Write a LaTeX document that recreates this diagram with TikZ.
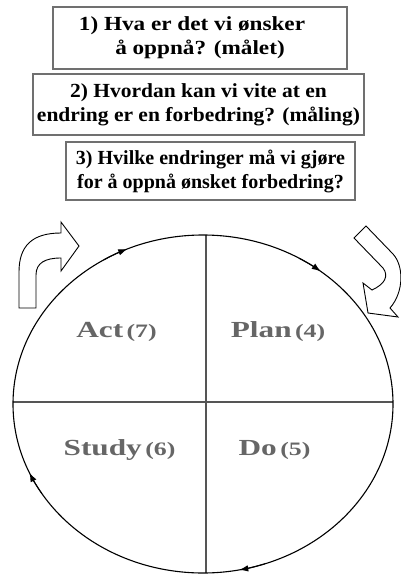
\documentclass[tikz,border=0pt]{standalone}
\usepackage{fontspec}
\setmainfont{Liberation Serif}
\newfontfamily\boxfontA[FakeStretch=1.16]{Liberation Serif}
\newfontfamily\boxfontB[FakeStretch=1.075]{Liberation Serif}
\newfontfamily\boxfontC[FakeStretch=1.0]{Liberation Serif}
\newfontfamily\phasefont[FakeStretch=1.36]{Liberation Serif}
\usetikzlibrary{arrows.meta,calc}
\definecolor{boxgray}{HTML}{707070}
\definecolor{labgray}{HTML}{666666}
\definecolor{divgray}{HTML}{555555}
\tikzset{
  qbox/.style={draw=boxgray,line width=2pt,align=center,inner sep=0pt},
  boxtext/.style={font=#1\bfseries\fontsize{20}{24}\selectfont},
  phase/.style={anchor=base,text=labgray,inner sep=0pt,font=\phasefont\bfseries},
  blockarrow/.style={draw=black,line width=0.9pt,fill=white,line join=miter},
  cyc/.style={-{Latex[length=9pt,width=6.5pt]},line width=1pt},
}
\newcommand{\phaselabel}[2]{{\fontsize{23}{26}\selectfont #1} {\fontsize{19}{22}\selectfont #2}}
\begin{document}
\begin{tikzpicture}[x=1pt,y=-1pt]
\useasboundingbox (0,0) rectangle (401,575);
% question boxes
\node[qbox,boxtext=\boxfontA,minimum width=294pt,minimum height=62pt] (q1) at (200,38) {1) Hva er det vi ønsker\hspace*{16pt}\\å oppnå? (målet)};
\node[qbox,boxtext=\boxfontB,minimum width=331pt,minimum height=61pt] (q2) at (198.5,104.5) {2) Hvordan kan vi vite at en\\endring er en forbedring? (måling)};
\node[qbox,boxtext=\boxfontC,minimum width=289pt,minimum height=58pt] (q3) at (210.5,171) {3) Hvilke endringer må vi gjøre\\for å oppnå ønsket forbedring?};
% circle
\coordinate (c) at (203,404);
\draw[divgray,line width=1.5pt] (206,235) -- (206,573);
\draw[divgray,line width=1.5pt] (13,402) -- (393,402);
\draw[line width=1.1pt] (c) ellipse [x radius=190, y radius=169];
% cycle arrowheads (clockwise)
\foreach \t in {-113.5,-51.7,79,156}{
  \draw[cyc] ($(c)+(\t-8:190 and 169)$) arc[start angle=\t-8,end angle=\t,x radius=190,y radius=169];
}
% phase labels
\node[phase] (act) at (116.5,337.5) {\phaselabel{Act}{(7)}};
\node[phase] (plan) at (278,337.5) {\phaselabel{Plan}{(4)}};
\node[phase] (study) at (119.5,455) {\phaselabel{Study}{(6)}};
\node[phase] (do) at (274.5,455) {\phaselabel{Do}{(5)}};
% left curved block arrow
\draw[blockarrow] (19,308) -- (36,308) -- (36,275)
  .. controls (36,263) and (45,258) .. (61,258)
  -- (61,271) -- (79,246) -- (61,222) -- (61,233)
  .. controls (32,233) and (19,246) .. (19,272) -- cycle;
% right curved block arrow
\draw[blockarrow] (366,226) -- (393,254)
  .. controls (404,266) and (404,292) .. (390,308)
  -- (398,317) -- (368,313) -- (363,283) -- (372,290)
  .. controls (385,284) and (389,276) .. (383,268)
  -- (354,238) -- cycle;
\end{tikzpicture}
\end{document}
